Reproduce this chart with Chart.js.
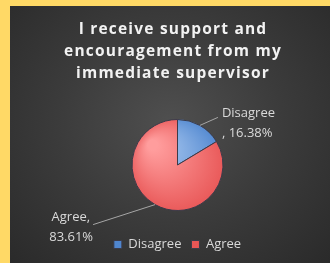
<!DOCTYPE html>
<html><head><meta charset="utf-8">
<script src="https://cdn.jsdelivr.net/npm/chart.js@4/dist/chart.umd.min.js"></script>
<style>
html,body{margin:0;padding:0;width:330px;height:263px;overflow:hidden;background:#FFD966;}
#bg{position:absolute;left:10px;top:6px;width:320px;height:257px;background:radial-gradient(ellipse at 50% 45%, #4f4f4f 0%, #3b3b3b 50%, #2a2a2a 100%);}
#wrap{position:absolute;left:0;top:0;width:330px;height:263px;}
</style></head>
<body><div id="bg"></div><div id="wrap"><canvas id="c" width="330" height="263"></canvas></div>
<script>
const titleLines = ["I receive support and", "encouragement from my", "immediate supervisor"];
const categories = ["Disagree", "Agree"];
const values = [16.38, 83.61];
const valueLabels = ["16.38%", "83.61%"];
const baseColors = [["#a9c8f0", "#4f86cf"], ["#ff9d9d", "#e85656"]];

const titlePlugin = {
  id: 'customTitle',
  afterDraw(chart) {
    const ctx = chart.ctx;
    ctx.save();
    ctx.font = 'bold 15.5px "Open Sans"';
    try { ctx.letterSpacing = '1.2px'; } catch(e) {}
    ctx.fillStyle = '#f2f2f2';
    ctx.textAlign = 'center';
    ctx.textBaseline = 'middle';
    titleLines.forEach((t, i) => ctx.fillText(t, 173, 30 + i * 22));
    ctx.restore();
  }
};

const labelPlugin = {
  id: 'sliceLabels',
  afterDatasetsDraw(chart) {
    const ctx = chart.ctx;
    const meta = chart.getDatasetMeta(0);
    ctx.save();
    ctx.font = '13px "Open Sans"';
    ctx.fillStyle = '#d9d9d9';
    ctx.strokeStyle = '#a6a6a6';
    ctx.lineWidth = 1;
    ctx.textBaseline = 'middle';
    meta.data.forEach((arc, i) => {
      const p = arc.getProps(['x','y','startAngle','endAngle','outerRadius'], true);
      const mid = (p.startAngle + p.endAngle) / 2;
      const sx = p.x + Math.cos(mid) * p.outerRadius;
      const sy = p.y + Math.sin(mid) * p.outerRadius;
      ctx.beginPath();
      if (Math.cos(mid) >= 0) {
        const ex = sx + 18, ey = sy - 8;
        ctx.moveTo(sx, sy); ctx.lineTo(ex, ey); ctx.stroke();
        ctx.textAlign = 'left';
        ctx.fillText(categories[i], ex + 4, ey - 4);
        ctx.fillText(', ' + valueLabels[i], ex + 4, ey + 16);
      } else {
        const ex = sx - 62, ey = sy + 20;
        ctx.moveTo(sx, sy); ctx.lineTo(ex, ey); ctx.stroke();
        ctx.textAlign = 'right';
        ctx.fillText(categories[i] + ',', ex - 3, ey - 7);
        ctx.fillText(valueLabels[i], ex, ey + 13);
      }
    });
    ctx.restore();
  }
};

new Chart(document.getElementById('c'), {
  type: 'pie',
  data: {
    labels: categories,
    datasets: [{
      data: values,
      backgroundColor: (c) => {
        const chart = c.chart;
        const cols = baseColors[c.dataIndex] || baseColors[0];
        const a = chart.chartArea;
        if (!a) return cols[1];
        const cx = (a.left + a.right) / 2, cy = (a.top + a.bottom) / 2;
        const g = chart.ctx.createRadialGradient(cx - 25, cy - 20, 5, cx, cy, 50);
        g.addColorStop(0, cols[0]);
        g.addColorStop(1, cols[1]);
        return g;
      },
      borderColor: '#3b3b4a',
      borderWidth: 1
    }]
  },
  options: {
    responsive: false,
    animation: false,
    radius: 45.5,
    layout: { padding: { left: 35, right: 10, top: 102, bottom: 2 } },
    plugins: {
      legend: {
        position: 'bottom',
        labels: {
          color: '#d9d9d9',
          font: { family: '"Open Sans"', size: 13 },
          boxWidth: 8, boxHeight: 8, padding: 10
        }
      },
      tooltip: { enabled: false }
    }
  },
  plugins: [titlePlugin, labelPlugin]
});
</script></body></html>
